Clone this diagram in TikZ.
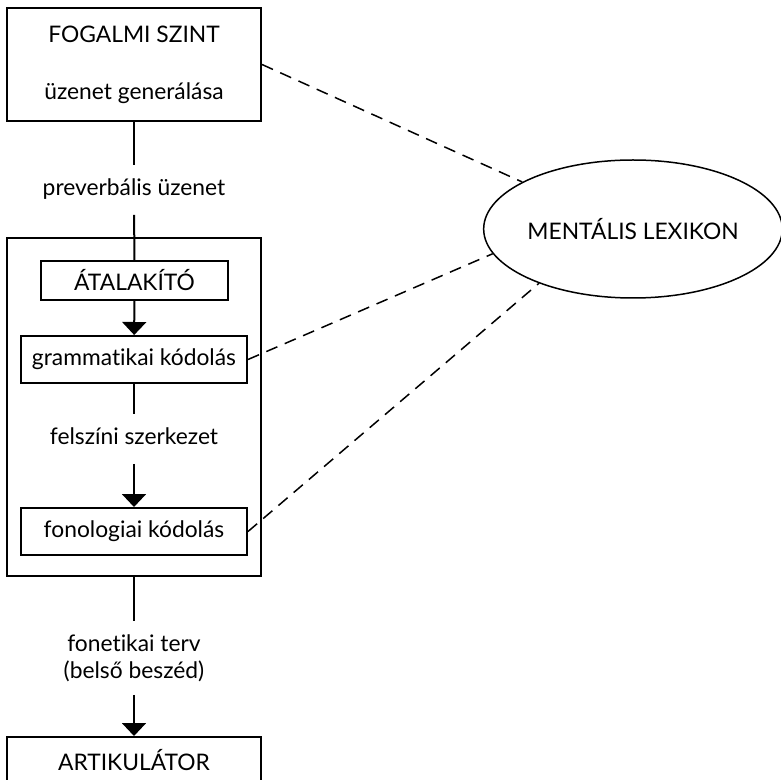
\documentclass[tikz,border=0pt]{standalone}
\usepackage{fontspec}
\setmainfont{Lato}[Ligatures=NoCommon]
\usepackage{tikz}
\usetikzlibrary{shapes.geometric,arrows.meta}

\tikzset{
	box/.style={shape=rectangle,draw=black,line width=1pt,inner sep=0pt},
	lbl/.style={align=center,inner xsep=0pt,inner ysep=7pt,text height=8pt,text depth=2.5pt},
	flow/.style={line width=1pt},
	arr/.style={line width=1pt,-{Triangle[width=12pt,length=6.5pt]}},
	link/.style={line width=0.75pt,dash pattern=on 6pt off 4pt}
}

\begin{document}
\begin{tikzpicture}[x=0.5pt,y=-0.5pt,font=\fontsize{11.4}{13.5}\selectfont]
	\useasboundingbox (0,0) rectangle (781,780);
	\node[box,minimum width=127pt,minimum height=169pt] (kodolo) at (134,407) {};
	\node[box,minimum width=127pt,minimum height=56.5pt,align=center] (fogalmi) at (134,64.5) {FOGALMI SZINT\\[15pt]üzenet generálása};
	\node[box,minimum width=93.5pt,minimum height=19.5pt] (atalakito) at (134.5,280.5) {ÁTALAKÍTÓ};
	\node[box,minimum width=113pt,minimum height=23.5pt] (gramm) at (134,359.5) {grammatikai kódolás};
	\node[box,minimum width=113pt,minimum height=23.5pt] (fono) at (134,531.5) {fonologiai kódolás};
	\node[box,minimum width=127pt,minimum height=23pt] (artik) at (134,760) {ARTIKULÁTOR};
	\node[shape=ellipse,draw=black,line width=0.75pt,minimum width=148pt,minimum height=69pt,inner sep=0pt] (lex) at (633,229) {MENTÁLIS LEXIKON};
	\node[lbl] (prevb) at (134,190) {preverbális üzenet};
	\node[lbl] (felsz) at (134,439) {felszíni szerkezet};
	\node[align=center,inner xsep=0pt,inner ysep=6.5pt] (fonet) at (134,658) {fonetikai terv\\(belső beszéd)};
	% függőleges folyam
	\draw[flow] (fogalmi) -- (prevb);
	\draw[flow] (prevb) -- (atalakito);
	\draw[arr] (atalakito) -- (gramm);
	\draw[flow] (gramm) -- (felsz);
	\draw[arr] (felsz) -- (fono);
	\draw[flow] (kodolo) -- (fonet);
	\draw[arr] (fonet) -- (artik);
	% kapcsolat a lexikonnal
	\draw[link] (fogalmi.east) -- (lex.157);
	\draw[link] (gramm.east) -- (lex.190);
	\draw[link] (fono.east) -- (lex.210);
\end{tikzpicture}
\end{document}
